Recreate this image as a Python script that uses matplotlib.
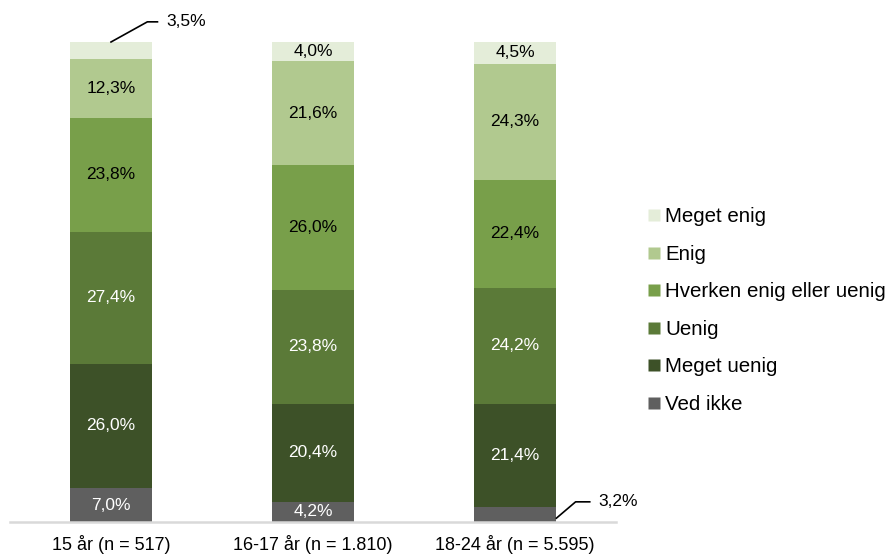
import matplotlib.pyplot as plt
from matplotlib.lines import Line2D

plt.rcParams['font.family'] = ['Liberation Sans', 'DejaVu Sans']

groups = ["15 år (n = 517)", "16-17 år (n = 1.810)", "18-24 år (n = 5.595)"]
# stacked from bottom to top
categories = ["Ved ikke", "Meget uenig", "Uenig", "Hverken enig eller uenig", "Enig", "Meget enig"]
ved_ikke = [7.0, 4.2, 3.2]
meget_uenig = [26.0, 20.4, 21.4]
uenig = [27.4, 23.8, 24.2]
hverken = [23.8, 26.0, 22.4]
enig = [12.3, 21.6, 24.3]
meget_enig = [3.5, 4.0, 4.5]
series = [ved_ikke, meget_uenig, uenig, hverken, enig, meget_enig]

colors = ["#5f5f5f", "#3d5128", "#5b7a38", "#789f4a", "#b1c98f", "#e4edd9"]
label_colors = ["white", "white", "white", "black", "black", "black"]

fig = plt.figure(figsize=(8.96, 5.55), dpi=100)
ax = fig.add_axes([10 / 896, 33 / 555, 606 / 896, 480 / 555])

x = list(range(len(groups)))
bottom = [0.0] * len(groups)
for i, vals in enumerate(series):
    ax.bar(x, vals, bottom=bottom, width=0.41, color=colors[i], edgecolor="none")
    for j, v in enumerate(vals):
        mid = bottom[j] + v / 2
        txt = f"{v:.1f}".replace(".", ",") + "%"
        # small segments get a label outside with a leader line
        if (i == 5 and j == 0) or (i == 0 and j == 2):
            y0 = bottom[j] + v / 2
            if i == 5:
                xs = [j, j + 0.18, j + 0.23]
                ys = [bottom[j] + v, bottom[j] + v + 4.2, bottom[j] + v + 4.2]
            else:
                xs = [j + 0.205, j + 0.3, j + 0.37]
                ys = [y0 - 0.8, y0 + 2.6, y0 + 2.6]
            ax.plot(xs, ys, color="black", lw=1.2, clip_on=False)
            ax.text(xs[-1] + 0.045, ys[-1], txt, ha="left", va="center",
                    fontsize=12.5, color="black")
        else:
            ax.text(j, mid, txt, ha="center", va="center",
                    fontsize=12.5, color=label_colors[i])
        bottom[j] += v

ax.set_xlim(-0.5, 2.5)
ax.set_ylim(0, 100)
ax.set_xticks(x)
ax.set_xticklabels(groups, fontsize=13)
ax.tick_params(axis="x", length=0, pad=9.5)
ax.set_yticks([])
for s in ["top", "left", "right"]:
    ax.spines[s].set_visible(False)
ax.spines["bottom"].set_color("#d9d9d9")
ax.spines["bottom"].set_linewidth(1.8)

handles = [Line2D([], [], marker="s", linestyle="none", markersize=8.5,
                  markerfacecolor=colors[i], markeredgecolor="none")
           for i in range(len(categories))][::-1]
fig.legend(handles, categories[::-1], loc="center left",
           bbox_to_anchor=(648 / 896, (555 - 310.5) / 555), frameon=False,
           fontsize=14.8, handlelength=0.6, handletextpad=0.25,
           labelspacing=0.9, borderaxespad=0, borderpad=0)

fig.savefig("out.png", dpi=100)
